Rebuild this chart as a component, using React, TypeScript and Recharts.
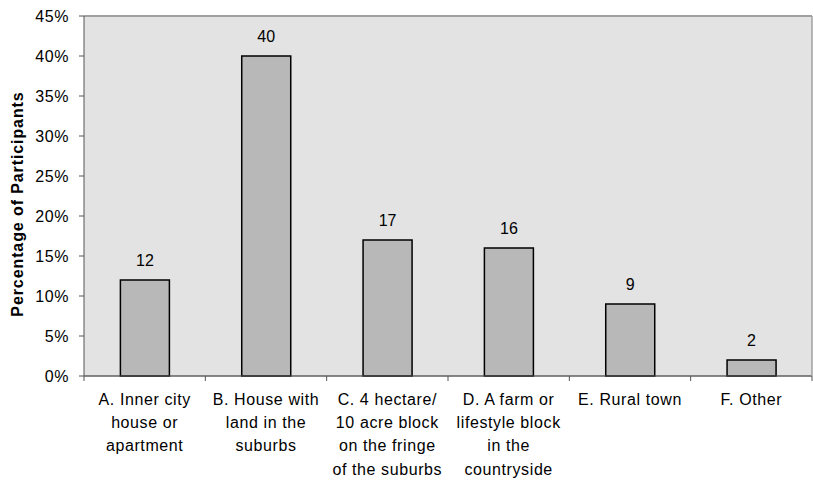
import React from "react";
import {
  BarChart,
  Bar,
  XAxis,
  YAxis,
  CartesianGrid,
  LabelList,
  ReferenceLine,
} from "recharts";

const categories = [
  "A. Inner city\nhouse or\napartment",
  "B. House with\nland in the\nsuburbs",
  "C. 4 hectare/\n10 acre block\non the fringe\nof the suburbs",
  "D. A farm or\nlifestyle block\nin the\ncountryside",
  "E. Rural town",
  "F. Other",
];
const percentages = [12, 40, 17, 16, 9, 2];
const yTicks = [0, 5, 10, 15, 20, 25, 30, 35, 40, 45];

const data = categories.map((c, i) => ({ name: c, value: percentages[i] }));

const FONT = "'Liberation Sans', Arial, sans-serif";

const CategoryTick = (props: any) => {
  const { x, y, payload, index, visibleTicksCount } = props;
  const off = payload && typeof payload.offset === "number" ? payload.offset : 60.67;
  const lines = String(payload.value).split("\n");
  const axisY = y - 7;
  const last = index === (visibleTicksCount ?? categories.length) - 1;
  return (
    <g>
      <line x1={x - off} x2={x - off} y1={axisY} y2={axisY + 5} stroke="#555" strokeWidth={1} />
      {last && (
        <line x1={x + off} x2={x + off} y1={axisY} y2={axisY + 5} stroke="#555" strokeWidth={1} />
      )}
      <text
        x={x}
        y={y}
        textAnchor="middle"
        fill="#000"
        fontSize={16}
        fontFamily={FONT}
        letterSpacing={0.6}
      >
        {lines.map((l, i) => (
          <tspan key={i} x={x} dy={i === 0 ? 22 : 23.2}>
            {l}
          </tspan>
        ))}
      </text>
    </g>
  );
};

export default function App() {
  return (
    <div style={{ position: "absolute", left: 0, top: 0, width: 813, height: 481, background: "#fff" }}>
      <BarChart
        width={813}
        height={481}
        data={data}
        margin={{ top: 16, right: 0, bottom: 0, left: 0 }}
        barCategoryGap="30%"
        style={{ fontFamily: FONT }}
      >
        <CartesianGrid vertical={false} stroke="#777" fill="#e3e3e3" strokeWidth={1} />
        <XAxis
          dataKey="name"
          interval={0}
          height={105}
          tickSize={5}
          tickMargin={2}
          tickLine={false}
          axisLine={{ stroke: "#555", strokeWidth: 1 }}
          tick={<CategoryTick />}
        />
        <YAxis
          yAxisId="left"
          width={84}
          domain={[0, 45]}
          ticks={yTicks}
          interval={0}
          tickFormatter={(v: number) => `${v}%`}
          tickSize={5}
          tickMargin={10}
          tick={{ fill: "#000", fontSize: 16, fontFamily: FONT, letterSpacing: 0.6 }}
          tickLine={{ stroke: "#555" }}
          axisLine={{ stroke: "#555" }}
          label={{
            value: "Percentage of Participants",
            angle: -90,
            position: "insideLeft",
            dx: 12,
            dy: 8,
            style: {
              textAnchor: "middle",
              fontWeight: "bold",
              fontSize: 16,
              fontFamily: FONT,
              fill: "#000",
              letterSpacing: 0.9,
            },
          }}
        />
        <YAxis
          yAxisId="right"
          orientation="right"
          width={1}
          domain={[0, 45]}
          tick={false}
          tickLine={false}
          axisLine={{ stroke: "#a0a0a0", strokeWidth: 1.5 }}
        />
        <ReferenceLine yAxisId="left" y={45} stroke="#a0a0a0" strokeWidth={2} />
        <Bar
          yAxisId="left"
          dataKey="value"
          fill="#b8b8b8"
          stroke="#000"
          strokeWidth={1.5}
          isAnimationActive={false}
        >
          <LabelList
            dataKey="value"
            position="top"
            offset={14}
            fill="#000"
            fontSize={16}
            fontFamily={FONT}
          />
        </Bar>
      </BarChart>
    </div>
  );
}
